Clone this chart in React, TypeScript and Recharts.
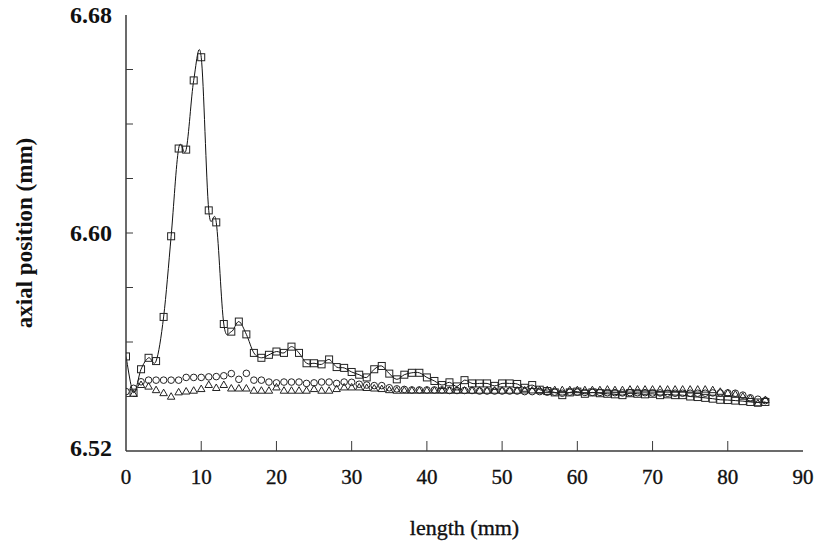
import React from 'react';
import { ComposedChart, Line, XAxis, YAxis, Label } from 'recharts';

const lengthMm = [
  0, 1, 2, 3, 4, 5, 6, 7, 8, 9, 10, 11, 12, 13, 14, 15, 16, 17, 18, 19,
  20, 21, 22, 23, 24, 25, 26, 27, 28, 29, 30, 31, 32, 33, 34, 35, 36, 37, 38, 39,
  40, 41, 42, 43, 44, 45, 46, 47, 48, 49, 50, 51, 52, 53, 54, 55, 56, 57, 58, 59,
  60, 61, 62, 63, 64, 65, 66, 67, 68, 69, 70, 71, 72, 73, 74, 75, 76, 77, 78, 79,
  80, 81, 82, 83, 84, 85,
];

const squareSeries = [
  6.5547, 6.5414, 6.55, 6.5542, 6.553, 6.5692, 6.5988, 6.631, 6.6306, 6.656,
  6.6645, 6.6083, 6.6039, 6.5666, 6.5638, 6.5675, 6.5628, 6.556, 6.5542, 6.5553,
  6.5565, 6.556, 6.5583, 6.556, 6.5522, 6.5522, 6.5518, 6.5536, 6.5508, 6.5505,
  6.549, 6.548, 6.547, 6.55, 6.5512, 6.5484, 6.5463, 6.548, 6.5487, 6.5487,
  6.547, 6.5457, 6.5442, 6.5452, 6.5437, 6.546, 6.5448, 6.5448, 6.5448, 6.5439,
  6.5448, 6.5448, 6.5446, 6.5432, 6.5442, 6.5425, 6.542, 6.5415, 6.5405, 6.5415,
  6.5418, 6.541, 6.5415, 6.5412, 6.541, 6.5408, 6.5405, 6.5412, 6.541, 6.5408,
  6.541, 6.5405, 6.5408, 6.5405, 6.5405, 6.54, 6.5398, 6.5395, 6.5392, 6.5388,
  6.5387, 6.5385, 6.5383, 6.538, 6.5378, 6.538,
];

const circleSeries = [
  6.5418, 6.543, 6.5454, 6.546, 6.546, 6.546, 6.546, 6.546, 6.547, 6.547,
  6.547, 6.5472, 6.5473, 6.5476, 6.5484, 6.5463, 6.5485, 6.546, 6.546, 6.5453,
  6.545, 6.5453, 6.5453, 6.5453, 6.5448, 6.545, 6.5453, 6.5453, 6.5448, 6.5453,
  6.5452, 6.5445, 6.5442, 6.544, 6.544, 6.5432, 6.5428, 6.5426, 6.5424, 6.5424,
  6.5424, 6.5424, 6.5424, 6.5422, 6.5422, 6.5422, 6.5422, 6.542, 6.542, 6.542,
  6.542, 6.542, 6.542, 6.5418, 6.5418, 6.5418, 6.5416, 6.5416, 6.5412, 6.5416,
  6.5416, 6.5415, 6.5415, 6.5415, 6.5414, 6.5414, 6.5413, 6.5414, 6.5414, 6.5414,
  6.5413, 6.5413, 6.5412, 6.5412, 6.5412, 6.5412, 6.5412, 6.5412, 6.5413, 6.5413,
  6.5413, 6.5412, 6.5405, 6.5395, 6.539, 6.5385,
];

const triangleSeries = [
  null, 6.5412, 6.5445, 6.5439, 6.5426, 6.5415, 6.5402, 6.5418, 6.5421, 6.5424,
  6.543, 6.5445, 6.5434, 6.5445, 6.5432, 6.5432, 6.5432, 6.5424, 6.5424, 6.5424,
  6.5436, 6.5424, 6.5424, 6.5424, 6.5424, 6.543, 6.5424, 6.5424, 6.543, 6.5436,
  6.5436, 6.5436, 6.5434, 6.5432, 6.543, 6.5426, 6.5424, 6.5424, 6.5424, 6.5424,
  6.5424, 6.5424, 6.5424, 6.5424, 6.5424, 6.5424, 6.5424, 6.5424, 6.5424, 6.5424,
  6.5424, 6.5424, 6.5424, 6.5425, 6.5425, 6.5426, 6.5426, 6.5426, 6.5426, 6.5426,
  6.5426, 6.5426, 6.5426, 6.5426, 6.5428, 6.5426, 6.5426, 6.5428, 6.5428, 6.5428,
  6.5428, 6.5428, 6.5428, 6.5428, 6.5428, 6.5428, 6.5428, 6.5428, 6.5426, 6.542,
  6.5415, 6.541, 6.5402, 6.5395, 6.5377, 6.539,
];

const xTicks = [0, 10, 20, 30, 40, 50, 60, 70, 80, 90];
const yTicks = [6.52, 6.54, 6.56, 6.58, 6.6, 6.62, 6.64, 6.66, 6.68];
const yLabelTicks = [6.52, 6.6, 6.68];

const data = lengthMm.map((x, i) => ({
  x,
  sq: squareSeries[i],
  ci: circleSeries[i],
  tr: triangleSeries[i],
}));

const FONT = '"Liberation Serif", "Times New Roman", serif';
const INK = '#222';
const AXIS = '#3a3a3a';

// Catmull-Rom spline (curve passes through every point), used as a d3-style curve factory
class CatmullRomCurve {
  _context: any;
  _pts: number[][] = [];
  constructor(ctx: any) {
    this._context = ctx;
  }
  areaStart() {}
  areaEnd() {}
  lineStart() {
    this._pts = [];
  }
  point(x: number, y: number) {
    this._pts.push([+x, +y]);
  }
  lineEnd() {
    const p = this._pts;
    const c = this._context;
    if (!p.length) return;
    c.moveTo(p[0][0], p[0][1]);
    for (let i = 0; i < p.length - 1; i++) {
      const p0 = p[i - 1] || p[i];
      const p1 = p[i];
      const p2 = p[i + 1];
      const p3 = p[i + 2] || p2;
      const c1x = p1[0] + (p2[0] - p0[0]) / 6;
      const c1y = p1[1] + (p2[1] - p0[1]) / 6;
      const c2x = p2[0] - (p3[0] - p1[0]) / 6;
      const c2y = p2[1] - (p3[1] - p1[1]) / 6;
      c.bezierCurveTo(c1x, c1y, c2x, c2y, p2[0], p2[1]);
    }
  }
}
const catmullRom: any = (ctx: any) => new CatmullRomCurve(ctx);

const isEnd = (v: number, lo: number, hi: number) => Math.abs(v - lo) < 1e-9 || Math.abs(v - hi) < 1e-9;

const BottomTick = (props: any) => {
  const { x, y, payload } = props;
  const v = payload.value;
  return (
    <g>
      {!isEnd(v, 0, 90) && <line x1={x} y1={y} x2={x} y2={y - 10} stroke={AXIS} strokeWidth={1} />}
      <text x={x} y={y + 33} textAnchor="middle" fontFamily={FONT} fontSize={21} fill="#111" stroke="#111" strokeWidth={0.35}>
        {v}
      </text>
    </g>
  );
};

const TopTick = (props: any) => {
  const { x, y, payload } = props;
  const v = payload.value;
  if (isEnd(v, 0, 90)) return <g />;
  return <line x1={x} y1={y} x2={x} y2={y + 10} stroke={AXIS} strokeWidth={1} />;
};

const LeftTick = (props: any) => {
  const { x, y, payload } = props;
  const v = payload.value;
  const labelled = yLabelTicks.some((t) => Math.abs(t - v) < 1e-9);
  const shift = Math.abs(v - 6.52) < 1e-9 ? -3 : 0;
  return (
    <g>
      {!isEnd(v, 6.52, 6.68) && <line x1={x} y1={y} x2={x + 7} y2={y} stroke={AXIS} strokeWidth={1} />}
      {labelled && (
        <text x={x - 14} y={y + 8 + shift} textAnchor="end" fontFamily={FONT} fontWeight="bold" fontSize={24} fill="#111">
          {v.toFixed(2)}
        </text>
      )}
    </g>
  );
};

const RightTick = (props: any) => {
  const { x, y, payload } = props;
  const v = payload.value;
  if (isEnd(v, 6.52, 6.68)) return <g />;
  return <line x1={x} y1={y} x2={x - 7} y2={y} stroke={AXIS} strokeWidth={1} />;
};

const SquareDot = (props: any) => {
  const { cx, cy, index, value } = props;
  if (cx == null || cy == null || value == null) return <g key={`s${index}`} />;
  return <rect key={`s${index}`} x={cx - 3.5} y={cy - 3.5} width={7} height={7} fill="none" stroke={INK} strokeWidth={1} />;
};

const CircleDot = (props: any) => {
  const { cx, cy, index, value } = props;
  if (cx == null || cy == null || value == null) return <g key={`c${index}`} />;
  return <circle key={`c${index}`} cx={cx} cy={cy} r={3.3} fill="none" stroke={INK} strokeWidth={1} />;
};

const TriangleDot = (props: any) => {
  const { cx, cy, index, value } = props;
  if (cx == null || cy == null || value == null) return <g key={`t${index}`} />;
  const h = 6.5;
  const w = 7.5;
  const pts = `${cx},${cy - h / 2} ${cx + w / 2},${cy + h / 2} ${cx - w / 2},${cy + h / 2}`;
  return <polygon key={`t${index}`} points={pts} fill="none" stroke={INK} strokeWidth={1} />;
};

const XAxisTitle = (props: any) => {
  const vb = props.viewBox || {};
  const cx = vb.x + vb.width / 2;
  const by = vb.y + vb.height - 9;
  return (
    <text x={cx} y={by} textAnchor="middle" fontFamily={FONT} fontSize={22} fill="#111" stroke="#111" strokeWidth={0.35}>
      length (mm)
    </text>
  );
};

const YAxisTitle = (props: any) => {
  const vb = props.viewBox || {};
  const cy = vb.y + vb.height / 2;
  const bx = 32;
  return (
    <text x={bx} y={cy} transform={`rotate(-90, ${bx}, ${cy})`} textAnchor="middle" fontFamily={FONT} fontWeight="bold" fontSize={23} fill="#111">
      axial position (mm)
    </text>
  );
};

export default function App() {
  return (
    <div style={{ position: 'absolute', left: 0, top: 0, width: 818, height: 544, background: '#fff' }}>
      <ComposedChart width={818} height={544} data={data} margin={{ top: 15, right: 15, bottom: 0, left: 0 }}>
        <XAxis
          xAxisId="b"
          dataKey="x"
          type="number"
          domain={[0, 90]}
          ticks={xTicks}
          interval={0}
          height={93}
          tickSize={0}
          tickMargin={0}
          tickLine={false}
          axisLine={{ stroke: AXIS, strokeWidth: 1.5 }}
          tick={<BottomTick />}
          allowDataOverflow
        >
          <Label content={<XAxisTitle />} />
        </XAxis>
        <XAxis
          xAxisId="t"
          orientation="top"
          dataKey="x"
          type="number"
          domain={[0, 90]}
          ticks={xTicks}
          interval={0}
          height={0}
          tickSize={0}
          tickMargin={0}
          tickLine={false}
          axisLine={{ stroke: AXIS, strokeWidth: 1.5 }}
          tick={<TopTick />}
          allowDataOverflow
        />
        <YAxis
          yAxisId="l"
          type="number"
          domain={[6.52, 6.68]}
          ticks={yTicks}
          interval={0}
          width={126}
          tickSize={0}
          tickMargin={0}
          tickLine={false}
          axisLine={{ stroke: AXIS, strokeWidth: 1.5 }}
          tick={<LeftTick />}
          allowDataOverflow
        >
          <Label content={<YAxisTitle />} />
        </YAxis>
        <YAxis
          yAxisId="r"
          orientation="right"
          type="number"
          domain={[6.52, 6.68]}
          ticks={yTicks}
          interval={0}
          width={0}
          tickSize={0}
          tickMargin={0}
          tickLine={false}
          axisLine={{ stroke: AXIS, strokeWidth: 1.5 }}
          tick={<RightTick />}
          allowDataOverflow
        />
        <Line
          xAxisId="b"
          yAxisId="l"
          dataKey="ci"
          type="linear"
          stroke="none"
          dot={CircleDot}
          activeDot={false}
          isAnimationActive={false}
        />
        <Line
          xAxisId="b"
          yAxisId="l"
          dataKey="tr"
          type="linear"
          stroke="none"
          dot={TriangleDot}
          activeDot={false}
          isAnimationActive={false}
        />
        <Line
          xAxisId="b"
          yAxisId="l"
          dataKey="sq"
          type={catmullRom}
          stroke="#111"
          strokeWidth={1}
          dot={SquareDot}
          activeDot={false}
          isAnimationActive={false}
        />
      </ComposedChart>
    </div>
  );
}
